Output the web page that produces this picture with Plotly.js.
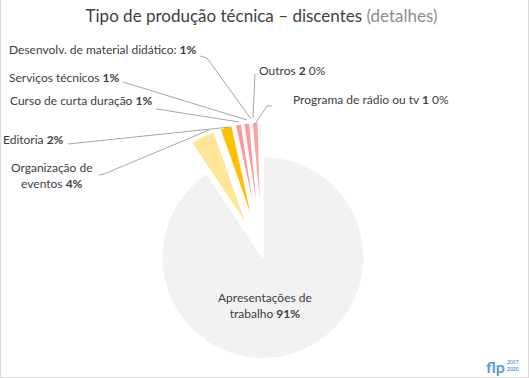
<!DOCTYPE html>
<html>
<head>
<meta charset="utf-8">
<script src="https://cdn.plot.ly/plotly-3.0.1.min.js"></script>
<style>
  html, body { margin:0; padding:0; background:#fff; overflow:hidden; }
  #wrap { position:relative; width:529px; height:378px; overflow:hidden; }
  #chart { position:absolute; left:0; top:0; width:529px; height:400px; }
  #frame { position:absolute; left:0; top:0; width:529px; height:378px; box-sizing:border-box;
           border-left:1px solid #d9d9d9; border-right:1px solid #d9d9d9; border-bottom:1px solid #d9d9d9;
           pointer-events:none; }
</style>
</head>
<body>
<div id="wrap"><div id="chart"></div><div id="frame"></div></div>
<script>
// ---- data ----
const categories = ["Apresentações de trabalho", "Organização de eventos", "Editoria",
                    "Curso de curta duração", "Serviços técnicos", "Desenvolv. de material didático",
                    "Outros", "Programa de rádio ou tv"];
const counts = [637, 28, 14, 7, 7, 7, 2, 1];
const labelNames = ["Apresentações de<br>trabalho", "Organização de<br>eventos", "Editoria",
                    "Curso de curta duração", "Serviços técnicos", "Desenvolv. de material didático:",
                    "Outros", "Programa de rádio ou tv"];
const showCount = [false, false, false, false, false, false, true, true];
const sliceColors = ["#f2f2f2", "#ffe699", "#ffc000", "#ff9999", "#ff9999", "#ffa3a3", "#ffb3b3", "#ffc7c7"];
const pulls = [0, 0.34, 0.34, 0.34, 0.34, 0.34, 0.34, 0.34];

// ---- layout helpers (pixel -> paper) ----
const W = 529, H = 400;
const px = x => x / W;
const py = y => (H - y) / H;

const total = counts.reduce((a, b) => a + b, 0);
const pct = counts.map(v => Math.round(v / total * 100));
const labelTexts = labelNames.map((n, i) =>
  showCount[i] ? n + " <b>" + counts[i] + "</b> " + pct[i] + "%" : n + " <b>" + pct[i] + "%</b>");

// label placement (pixels) and leader lines
const labelPos = [
  {x: 265, y: 305, xa: "center"},
  {x: 51.5, y: 175, xa: "center"},
  {x: 66, y: 139.5, xa: "right"},
  {x: 154, y: 101, xa: "right"},
  {x: 122, y: 77.5, xa: "right"},
  {x: 199, y: 49, xa: "right"},
  {x: 257, y: 70, xa: "left"},
  {x: 291, y: 99, xa: "left"}
];
const leaders = [
  null,
  [[99, 175], [104, 174], [209, 130]],
  [[68, 144], [230, 127]],
  [[156, 109], [163, 110], [239, 122]],
  [[123, 82], [247, 120]],
  [[200, 56], [207, 58], [251, 119]],
  [[255, 74], [253, 118]],
  [[272, 106], [267, 106], [253, 127]]
];

const fontFam = "Lato, 'Open Sans', sans-serif";
const annotations = labelTexts.map((t, i) => ({
  text: t, xref: "paper", yref: "paper", x: px(labelPos[i].x), y: py(labelPos[i].y),
  xanchor: labelPos[i].xa, yanchor: "middle", align: "center", showarrow: false,
  font: {family: fontFam, size: 12, color: "#404040"}
}));
annotations.push({text: "<b>flp</b>", xref: "paper", yref: "paper", x: px(484), y: py(366),
  xanchor: "left", yanchor: "middle", showarrow: false,
  font: {family: "Lato, sans-serif", size: 16, color: "#5b9bd5"}});
annotations.push({text: "<b>2017<br>2020</b>", xref: "paper", yref: "paper", x: px(505), y: py(365),
  xanchor: "left", yanchor: "middle", showarrow: false,
  font: {family: "Lato, sans-serif", size: 5, color: "#5b9bd5"}});

const shapes = leaders.filter(l => l).map(pts => ({
  type: "path", xref: "paper", yref: "paper",
  path: pts.map((p, k) => (k ? "L" : "M") + px(p[0]) + "," + py(p[1])).join(" "),
  line: {color: "#a6a6a6", width: 1}
}));

const trace = {
  type: "pie",
  labels: categories,
  values: counts,
  sort: false,
  direction: "clockwise",
  rotation: 0,
  pull: pulls,
  textinfo: "none",
  hoverinfo: "label+percent",
  marker: {colors: sliceColors, line: {color: "#ffffff", width: 1.5}},
  domain: {x: [px(113), px(413)], y: [py(393), py(122)]},
  showlegend: false
};

const layout = {
  width: W, height: H,
  margin: {l: 0, r: 0, t: 0, b: 0},
  paper_bgcolor: "#ffffff",
  title: {
    text: "Tipo de produção técnica – discentes <span style='color:#8c8c8c'>(detalhes)</span>",
    x: px(261.5), xanchor: "center", y: py(16), yanchor: "middle", yref: "paper",
    font: {family: fontFam, size: 17, color: "#404040"}
  },
  annotations: annotations,
  shapes: shapes,
  showlegend: false
};

Plotly.newPlot("chart", [trace], layout, {displayModeBar: false, staticPlot: true});
</script>
</body>
</html>
